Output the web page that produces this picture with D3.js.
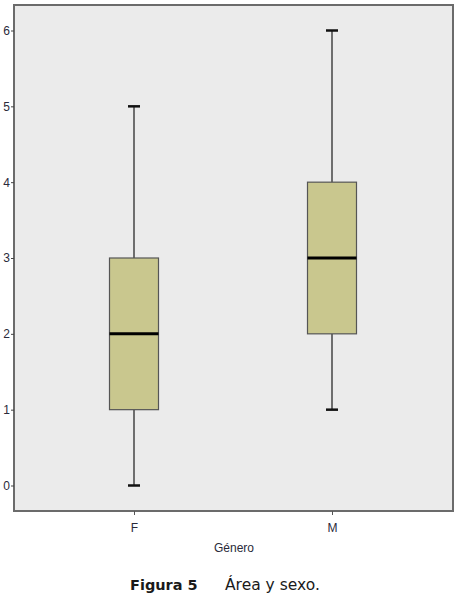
<!DOCTYPE html>
<html><head><meta charset="utf-8">
<script src="https://cdn.jsdelivr.net/npm/d3@7"></script>
<style>body{margin:0;background:#fff}svg{display:block}</style>
</head><body>
<script>
const categories = ["F", "M"];
const mins = [0, 1];
const q1s = [1, 2];
const medians = [2, 3];
const q3s = [3, 4];
const maxs = [5, 6];
const yTicks = [0, 1, 2, 3, 4, 5, 6];
const xTitle = "Género";
const captionBold = "Figura 5";
const captionText = "Área y sexo.";

const W = 460, H = 597;
const svg = d3.select("body").append("svg").attr("width", W).attr("height", H);
const L = 14, R = 453, T = 5, B = 511;

const x = d3.scalePoint().domain(categories).range([134, 332]);
const y = d3.scaleLinear().domain([0, 6]).range([485.5, 30.5]);

svg.append("rect").attr("x", L).attr("y", T).attr("width", R - L).attr("height", B - T)
  .attr("fill", "#ebebeb").attr("stroke", "#6b6b6b").attr("stroke-width", 2);

const yAxis = d3.axisLeft(y).tickValues(yTicks).tickSize(3).tickPadding(1).tickFormat(d3.format("d"));
const gy = svg.append("g").attr("transform", `translate(${L},0)`).call(yAxis);
gy.select(".domain").remove();
gy.selectAll("line").attr("stroke", "#444");
gy.selectAll("text").attr("font-family", "Liberation Sans, Arial, sans-serif").attr("font-size", 12).attr("fill", "#2a2a3a");

const xAxis = d3.axisBottom(x).tickSize(4).tickPadding(8);
const gx = svg.append("g").attr("transform", `translate(0,${B})`).call(xAxis);
gx.select(".domain").remove();
gx.selectAll("line").attr("stroke", "#555");
gx.selectAll("text").attr("font-family", "Liberation Sans, Arial, sans-serif").attr("font-size", 12).attr("fill", "#2a2a3a");

svg.append("text").attr("x", 234).attr("y", 552).attr("text-anchor", "middle")
  .attr("font-family", "Liberation Sans, Arial, sans-serif").attr("font-size", 12).attr("fill", "#2a2a3a").text(xTitle);

const bw = 49, cap = 12;
const data = categories.map((c, i) => ({c, min: mins[i], q1: q1s[i], med: medians[i], q3: q3s[i], max: maxs[i]}));
const g = svg.append("g").selectAll("g").data(data).join("g");
g.append("line").attr("x1", d => x(d.c)).attr("x2", d => x(d.c)).attr("y1", d => y(d.max)).attr("y2", d => y(d.q3)).attr("stroke", "#444").attr("stroke-width", 1.5);
g.append("line").attr("x1", d => x(d.c)).attr("x2", d => x(d.c)).attr("y1", d => y(d.q1)).attr("y2", d => y(d.min)).attr("stroke", "#444").attr("stroke-width", 1.5);
g.append("line").attr("x1", d => x(d.c) - cap / 2).attr("x2", d => x(d.c) + cap / 2).attr("y1", d => y(d.max)).attr("y2", d => y(d.max)).attr("stroke", "#111").attr("stroke-width", 2.5);
g.append("line").attr("x1", d => x(d.c) - cap / 2).attr("x2", d => x(d.c) + cap / 2).attr("y1", d => y(d.min)).attr("y2", d => y(d.min)).attr("stroke", "#111").attr("stroke-width", 2.5);
g.append("rect").attr("x", d => x(d.c) - bw / 2).attr("width", bw).attr("y", d => y(d.q3)).attr("height", d => y(d.q1) - y(d.q3))
  .attr("fill", "#c9c78e").attr("stroke", "#555").attr("stroke-width", 1.2);
g.append("line").attr("x1", d => x(d.c) - bw / 2).attr("x2", d => x(d.c) + bw / 2).attr("y1", d => y(d.med)).attr("y2", d => y(d.med)).attr("stroke", "#000").attr("stroke-width", 3);

const cap1 = svg.append("text").attr("x", 130).attr("y", 590)
  .attr("font-family", "'DejaVu Sans', Verdana, sans-serif").attr("font-size", 14.5).attr("fill", "#1a1a1a");
cap1.append("tspan").attr("font-weight", "bold").text(captionBold);
cap1.append("tspan").attr("x", 225).attr("font-size", 15.5).text(captionText);
</script>
</body></html>
